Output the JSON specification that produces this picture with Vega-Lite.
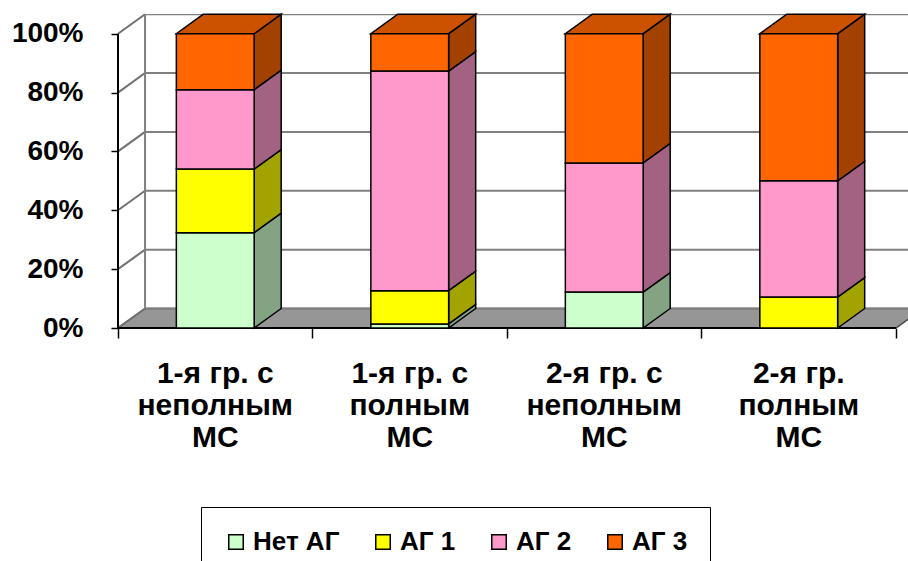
{
  "$schema": "https://vega.github.io/schema/vega-lite/v6.json",
  "autosize": {"type": "none"},
  "padding": {"left": 118, "top": 14, "right": 0, "bottom": 233},
  "width": 790,
  "height": 314,
  "background": "white",
  "config": {"view": {"stroke": null}, "font": "Liberation Sans"},
  "params": [
    {"name": "dx", "value": 0.139},
    {"name": "dy", "value": 6.63},
    {"name": "hw", "value": 0.2}
  ],
  "datasets": {
    "groups": [
      {"group": "1-я гр. с\nнеполным\nМС", "Нет АГ": 32.4, "АГ 1": 21.6, "АГ 2": 27.0, "АГ 3": 19.0},
      {"group": "1-я гр. с\nполным\nМС", "Нет АГ": 1.4, "АГ 1": 11.3, "АГ 2": 74.6, "АГ 3": 12.7},
      {"group": "2-я гр. с\nнеполным\nМС", "Нет АГ": 12.2, "АГ 1": 0, "АГ 2": 43.9, "АГ 3": 43.9},
      {"group": "2-я гр.\nполным\nМС", "Нет АГ": 0, "АГ 1": 10.5, "АГ 2": 39.5, "АГ 3": 50.0}
    ],
    "ticks": [{"v": 0}, {"v": 20}, {"v": 40}, {"v": 60}, {"v": 80}, {"v": 100}]
  },
  "layer": [
    {
      "data": {"name": "ticks"},
      "transform": [
        {"filter": "datum.v == 0"},
        {"calculate": "[0, 1]", "as": "k"},
        {"flatten": ["k"]},
        {"calculate": "datum.k * dx", "as": "fx"},
        {"calculate": "4 + datum.k * dx", "as": "fx2"},
        {"calculate": "datum.v + datum.k * dy", "as": "fy"}
      ],
      "mark": {"type": "area", "orient": "horizontal", "fill": "#969696", "stroke": "#404040", "strokeWidth": 1.5, "clip": true},
      "encoding": {
        "y": {
          "field": "fy", "type": "quantitative",
          "scale": {"type": "linear", "domain": [0, 106.7], "nice": false, "zero": false},
          "axis": {"values": [0, 20, 40, 60, 80, 100], "labelExpr": "datum.value + '%'", "title": null, "domain": false, "grid": false, "ticks": true, "tickSize": 7, "tickColor": "black", "tickWidth": 1.5, "labelPadding": 28, "labelFont": "Liberation Sans", "labelFontSize": 28, "labelFontWeight": "bold", "labelColor": "black"}
        },
        "x": {
          "field": "fx", "type": "quantitative",
          "scale": {"type": "linear", "domain": [0, 4.0617], "nice": false, "zero": false},
          "axis": {"values": [0, 1, 2, 3, 4], "labels": false, "title": null, "domain": false, "grid": false, "ticks": true, "tickSize": 10, "tickColor": "black", "tickWidth": 1.5}
        },
        "x2": {"field": "fx2"}
      }
    },
    {
      "data": {"name": "ticks"},
      "transform": [
        {"calculate": "dx", "as": "xb"},
        {"calculate": "5", "as": "xe"},
        {"calculate": "datum.v + dy", "as": "yb"}
      ],
      "mark": {"type": "rule", "color": "#808080", "strokeWidth": 2, "clip": true},
      "encoding": {
        "x": {"field": "xb", "type": "quantitative", "scale": {"type": "linear", "domain": [0, 4.0617], "nice": false, "zero": false}},
        "x2": {"field": "xe"},
        "y": {"field": "yb", "type": "quantitative", "scale": {"type": "linear", "domain": [0, 106.7], "nice": false, "zero": false}}
      }
    },
    {
      "data": {"name": "ticks"},
      "transform": [
        {"calculate": "0", "as": "xa"},
        {"calculate": "dx", "as": "xb"},
        {"calculate": "datum.v + dy", "as": "yb"}
      ],
      "mark": {"type": "rule", "color": "#707070", "strokeWidth": 2},
      "encoding": {
        "x": {"field": "xa", "type": "quantitative", "scale": {"type": "linear", "domain": [0, 4.0617], "nice": false, "zero": false}},
        "x2": {"field": "xb"},
        "y": {"field": "v", "type": "quantitative", "scale": {"type": "linear", "domain": [0, 106.7], "nice": false, "zero": false}},
        "y2": {"field": "yb"}
      }
    },
    {
      "data": {"name": "ticks"},
      "transform": [
        {"filter": "datum.v == 100"},
        {"calculate": "dx", "as": "xb"},
        {"calculate": "dy", "as": "ya"},
        {"calculate": "datum.v + dy", "as": "yb"}
      ],
      "mark": {"type": "rule", "color": "#808080", "strokeWidth": 2},
      "encoding": {
        "x": {"field": "xb", "type": "quantitative", "scale": {"type": "linear", "domain": [0, 4.0617], "nice": false, "zero": false}},
        "y": {"field": "ya", "type": "quantitative", "scale": {"type": "linear", "domain": [0, 106.7], "nice": false, "zero": false}},
        "y2": {"field": "yb"}
      }
    },
    {
      "data": {"name": "ticks"},
      "transform": [
        {"filter": "datum.v == 100"},
        {"calculate": "0", "as": "xa"},
        {"calculate": "0", "as": "ya"}
      ],
      "mark": {"type": "rule", "color": "black", "strokeWidth": 2},
      "encoding": {
        "x": {"field": "xa", "type": "quantitative", "scale": {"type": "linear", "domain": [0, 4.0617], "nice": false, "zero": false}},
        "y": {"field": "ya", "type": "quantitative", "scale": {"type": "linear", "domain": [0, 106.7], "nice": false, "zero": false}},
        "y2": {"field": "v"}
      }
    },
    {
      "data": {"name": "ticks"},
      "transform": [
        {"filter": "datum.v == 0"},
        {"calculate": "0", "as": "xa"},
        {"calculate": "4", "as": "xb"}
      ],
      "mark": {"type": "rule", "color": "black", "strokeWidth": 2},
      "encoding": {
        "x": {"field": "xa", "type": "quantitative", "scale": {"type": "linear", "domain": [0, 4.0617], "nice": false, "zero": false}},
        "x2": {"field": "xb"},
        "y": {"field": "v", "type": "quantitative", "scale": {"type": "linear", "domain": [0, 106.7], "nice": false, "zero": false}}
      }
    },
    {
      "data": {"name": "groups"},
      "transform": [
        {"window": [{"op": "row_number", "as": "gi"}]},
        {"fold": ["Нет АГ", "АГ 1", "АГ 2", "АГ 3"], "as": ["level", "share"]},
        {"calculate": "indexof(['Нет АГ', 'АГ 1', 'АГ 2', 'АГ 3'], datum.level)", "as": "lvl"},
        {"stack": "share", "groupby": ["gi"], "sort": [{"field": "lvl"}], "as": ["y0", "y1"]},
        {"filter": "datum.share > 0"},
        {"calculate": "datum.gi - 0.5 - hw", "as": "xl"},
        {"calculate": "datum.gi - 0.5 + hw", "as": "xr"}
      ],
      "resolve": {"scale": {"fill": "independent"}},
      "layer": [
        {
          "transform": [
            {"calculate": "[0, 1]", "as": "k"},
            {"flatten": ["k"]},
            {"calculate": "datum.xr + datum.k * dx", "as": "sx"},
            {"calculate": "datum.y0 + datum.k * dy", "as": "sy0"},
            {"calculate": "datum.y1 + datum.k * dy", "as": "sy1"}
          ],
          "mark": {"type": "area", "orient": "vertical", "stroke": "black", "strokeWidth": 1.5, "fillOpacity": 1},
          "encoding": {
            "x": {"field": "sx", "type": "quantitative", "scale": {"type": "linear", "domain": [0, 4.0617], "nice": false, "zero": false}},
            "y": {"field": "sy1", "type": "quantitative", "scale": {"type": "linear", "domain": [0, 106.7], "nice": false, "zero": false}},
            "y2": {"field": "sy0"},
            "detail": [{"field": "gi"}, {"field": "level"}],
            "fill": {"field": "level", "type": "nominal", "scale": {"domain": ["Нет АГ", "АГ 1", "АГ 2", "АГ 3"], "range": ["#83A383", "#A3A300", "#A36282", "#A34100"]}, "legend": null}
          }
        },
        {
          "transform": [
            {"filter": "datum.y1 >= 99.9"},
            {"calculate": "[0, 1]", "as": "k"},
            {"flatten": ["k"]},
            {"calculate": "datum.xl + datum.k * dx", "as": "tx"},
            {"calculate": "datum.xr + datum.k * dx", "as": "tx2"},
            {"calculate": "datum.y1 + datum.k * dy", "as": "ty"}
          ],
          "mark": {"type": "area", "orient": "horizontal", "stroke": "black", "strokeWidth": 1.5, "fillOpacity": 1},
          "encoding": {
            "y": {"field": "ty", "type": "quantitative", "scale": {"type": "linear", "domain": [0, 106.7], "nice": false, "zero": false}},
            "x": {"field": "tx", "type": "quantitative", "scale": {"type": "linear", "domain": [0, 4.0617], "nice": false, "zero": false}},
            "x2": {"field": "tx2"},
            "detail": {"field": "gi"},
            "fill": {"field": "level", "type": "nominal", "scale": {"domain": ["Нет АГ", "АГ 1", "АГ 2", "АГ 3"], "range": ["#A3CCA3", "#CCCC00", "#CC7AA3", "#CC5200"]}, "legend": null}
          }
        },
        {
          "mark": {"type": "rect", "stroke": "black", "strokeWidth": 1.5, "opacity": 1},
          "encoding": {
            "x": {"field": "xl", "type": "quantitative", "scale": {"type": "linear", "domain": [0, 4.0617], "nice": false, "zero": false}},
            "x2": {"field": "xr"},
            "y": {"field": "y0", "type": "quantitative", "scale": {"type": "linear", "domain": [0, 106.7], "nice": false, "zero": false}},
            "y2": {"field": "y1"},
            "color": {
              "field": "level", "type": "nominal",
              "scale": {"domain": ["Нет АГ", "АГ 1", "АГ 2", "АГ 3"], "range": ["#CCFFCC", "#FFFF00", "#FF99CC", "#FF6600"]},
              "legend": {"orient": "none", "legendX": 83, "legendY": 493, "direction": "horizontal", "columns": 4, "title": null, "symbolType": "square", "symbolSize": 210, "symbolStrokeColor": "black", "symbolStrokeWidth": 1.5, "symbolOpacity": 1, "labelFont": "Liberation Sans", "labelFontSize": 26, "labelFontWeight": "bold", "labelColor": "black", "labelOffset": 4, "columnPadding": 30, "strokeColor": "black", "fillColor": "white", "padding": 22}
            }
          }
        }
      ]
    },
    {
      "data": {"name": "groups"},
      "transform": [
        {"window": [{"op": "row_number", "as": "gi"}]},
        {"calculate": "datum.gi - 0.5", "as": "cx"},
        {"calculate": "0", "as": "base"}
      ],
      "mark": {"type": "text", "baseline": "top", "align": "center", "dy": 31, "fontSize": 30, "fontWeight": "bold", "font": "Liberation Sans", "lineHeight": 32, "lineBreak": "\n", "color": "black"},
      "encoding": {
        "x": {"field": "cx", "type": "quantitative", "scale": {"type": "linear", "domain": [0, 4.0617], "nice": false, "zero": false}},
        "y": {"field": "base", "type": "quantitative", "scale": {"type": "linear", "domain": [0, 106.7], "nice": false, "zero": false}},
        "text": {"field": "group"}
      }
    }
  ]
}
